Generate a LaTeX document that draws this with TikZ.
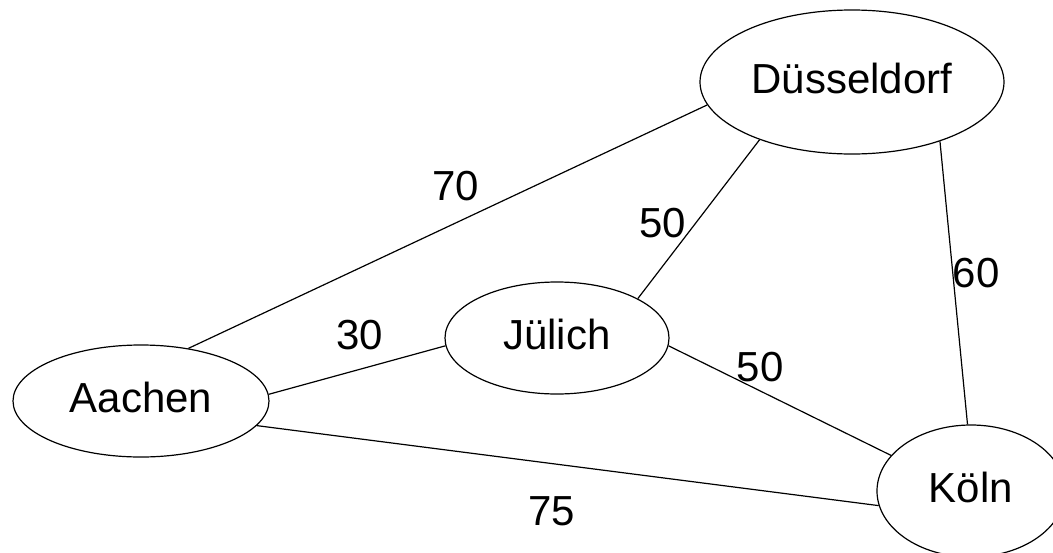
\documentclass[tikz,border=0pt]{standalone}
\usepackage{fontspec}
\setmainfont{Liberation Sans}
\usetikzlibrary{shapes.geometric}
\begin{document}
\begin{tikzpicture}[x=1pt,y=-1pt,
  city/.style={ellipse,draw,line width=1.2pt,inner sep=0pt,
    text height=30pt,text depth=8pt},
  wt/.style={inner sep=0pt,text height=30pt,text depth=0pt},
  edge/.style={line width=1.2pt}]
\useasboundingbox (0,0) rectangle (1053,552);
\fontsize{42}{50}\selectfont
\node[city,minimum width=256pt,minimum height=112pt] (A) at (141,401) {Aachen};
\node[city,minimum width=224pt,minimum height=112pt] (J) at (557,338) {Jülich};
\node[city,minimum width=304pt,minimum height=144pt] (D) at (852,82) {Düsseldorf};
\node[city,minimum width=188pt,minimum height=132pt] (K) at (971,491) {Köln};
\draw[edge] (A.48.9) -- (D.189);
\draw[edge] (J.26.8) -- (D.212.6);
\draw[edge] (D.-34) -- (K.93.5);
\draw[edge] (A.3.6) -- (J.184.6);
\draw[edge] (J.-4.6) -- (K.156.7);
\draw[edge] (A.-12.5) -- (K.189.1);
\node[wt] (l70) at (456,185) {70};
\node[wt] (l50a) at (663,222) {50};
\node[wt] (l60) at (976,272) {60};
\node[wt] (l30) at (360,334) {30};
\node[wt] (l50b) at (760,366) {50};
\node[wt] (l75) at (552,510) {75};
\end{tikzpicture}
\end{document}
